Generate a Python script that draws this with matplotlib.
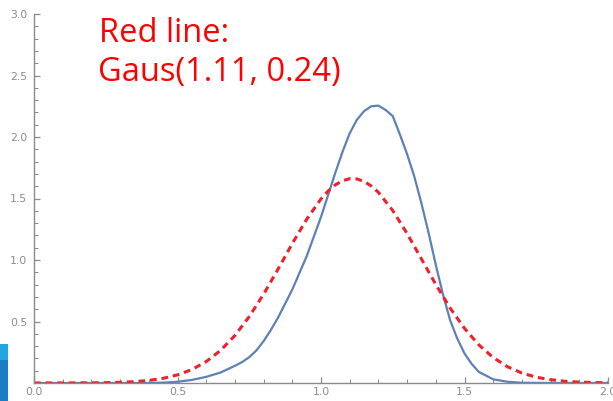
import matplotlib
matplotlib.use("Agg")
import matplotlib.pyplot as plt
from matplotlib.ticker import MultipleLocator
from matplotlib.patches import Rectangle

# blue curve
blue_x = [0.0, 0.40, 0.45, 0.50, 0.55, 0.60, 0.65, 0.70, 0.725, 0.75, 0.775, 0.80, 0.825, 0.85,
          0.875, 0.90, 0.95, 1.00, 1.05, 1.075, 1.10, 1.125, 1.15, 1.175, 1.20, 1.225, 1.25,
          1.275, 1.30, 1.325, 1.35, 1.375, 1.40, 1.425, 1.45, 1.475, 1.50, 1.525, 1.55, 1.60,
          1.65, 1.70, 1.80, 2.0]
blue_y = [0.0, 0.0, 0.003, 0.01, 0.025, 0.05, 0.085, 0.14, 0.17, 0.21, 0.265, 0.34, 0.43, 0.53,
          0.645, 0.76, 1.03, 1.35, 1.71, 1.88, 2.03, 2.14, 2.21, 2.25, 2.255, 2.22, 2.17,
          2.02, 1.86, 1.68, 1.46, 1.22, 0.96, 0.72, 0.51, 0.36, 0.24, 0.155, 0.09, 0.03,
          0.01, 0.002, 0.0, 0.0]

# red dashed curve, Gaus(1.11, 0.24)
red_x = [0.0, 0.05, 0.10, 0.15, 0.20, 0.25, 0.30, 0.35, 0.40, 0.45, 0.50, 0.55, 0.60, 0.65,
         0.70, 0.75, 0.80, 0.85, 0.90, 0.95, 1.00, 1.025, 1.05, 1.075, 1.10, 1.125, 1.15,
         1.175, 1.20, 1.25, 1.30, 1.35, 1.40, 1.45, 1.50, 1.55, 1.60, 1.65, 1.70, 1.75, 1.80,
         1.85, 1.90, 1.95, 2.0]
red_y = [0.0, 0.0, 0.0002, 0.0006, 0.0013, 0.0027, 0.0056, 0.011, 0.021, 0.038, 0.066, 0.109,
         0.174, 0.265, 0.386, 0.540, 0.722, 0.924, 1.134, 1.331, 1.497, 1.561, 1.611, 1.644,
         1.661, 1.659, 1.639, 1.602, 1.550, 1.402, 1.215, 1.008, 0.801, 0.609, 0.444, 0.310,
         0.207, 0.132, 0.081, 0.047, 0.027, 0.014, 0.0074, 0.0036, 0.0017]

x_ticks = [0.0, 0.5, 1.0, 1.5, 2.0]
y_ticks = [0.5, 1.0, 1.5, 2.0, 2.5, 3.0]

fig = plt.figure(figsize=(6.13, 4.01), dpi=100)
ax = fig.add_axes([34 / 613, 18 / 401, 574 / 613, 369 / 401])

ax.plot(blue_x, blue_y, color='#5E81B5', lw=1.6, solid_capstyle='round')
ax.plot(red_x, red_y, color='#F0202A', lw=2.2, dashes=(2.2, 1.6))

ax.set_xlim(0, 2.0)
ax.set_ylim(0, 3.0)
ax.set_xticks(x_ticks)
ax.set_yticks(y_ticks)
ax.set_xticklabels(['%.1f' % v for v in x_ticks])
ax.set_yticklabels(['%.1f' % v for v in y_ticks])
ax.xaxis.set_minor_locator(MultipleLocator(0.1))
ax.yaxis.set_minor_locator(MultipleLocator(0.1))

for s in ['top', 'right']:
    ax.spines[s].set_visible(False)
for s in ['left', 'bottom']:
    ax.spines[s].set_color('#8a8a8a')
    ax.spines[s].set_linewidth(1.0)

ax.tick_params(which='major', direction='in', length=4.5, width=0.9, color='#8a8a8a',
               labelcolor='#8c8c8c', labelsize=7.8)
ax.tick_params(which='minor', direction='in', length=2.6, width=0.7, color='#8a8a8a')
ax.tick_params(axis='y', which='major', pad=5)
ax.tick_params(axis='x', which='major', pad=3)

# red note
fig.text(99 / 613, 1 - 41.5 / 401, 'Red line:', color='red', fontsize=23.5,
         family='Open Sans', va='baseline', ha='left')
fig.text(98 / 613, 1 - 81 / 401, 'Gaus(1.11, 0.24)', color='red', fontsize=23.5,
         family='Open Sans', va='baseline', ha='left')

# slide edge strip at bottom left
fig.patches.append(Rectangle((0, 0), 8 / 613, 41 / 401, transform=fig.transFigure,
                             facecolor='#1C7CC4', edgecolor='none'))
fig.patches.append(Rectangle((0, 41 / 401), 8 / 613, 16 / 401, transform=fig.transFigure,
                             facecolor='#22A6E0', edgecolor='none'))

fig.savefig('out.png', dpi=100)
